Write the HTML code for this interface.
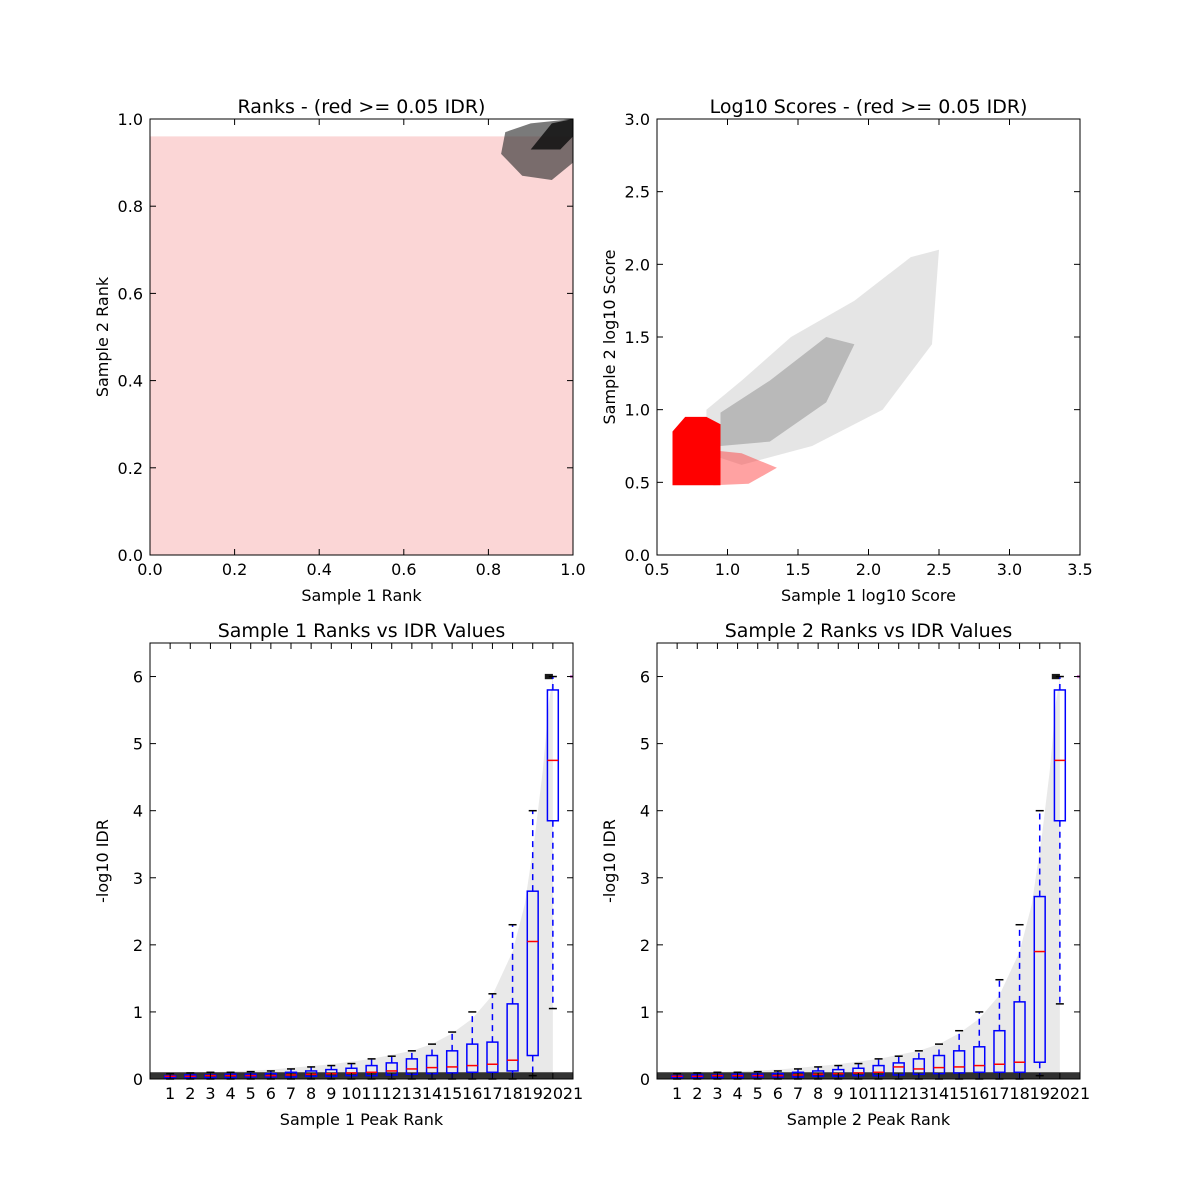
<!DOCTYPE html>
<html><head><meta charset="utf-8"><style>
html,body{margin:0;padding:0;background:#fff}
svg{display:block;font-family:"DejaVu Sans","Liberation Sans",sans-serif}
</style></head><body>
<svg id="fig" width="1200" height="1200" viewBox="0 0 1200 1200" xmlns="http://www.w3.org/2000/svg">
<rect width="1200" height="1200" fill="#fff"/>
</svg>
<script>
// ---------- data ----------
const rankTicks = [0.0,0.2,0.4,0.6,0.8,1.0];
const scoreXTicks = [0.5,1.0,1.5,2.0,2.5,3.0,3.5];
const scoreYTicks = [0.0,0.5,1.0,1.5,2.0,2.5,3.0];
const idrTicks = [0,1,2,3,4,5,6];
const peakRankTicks = [1,2,3,4,5,6,7,8,9,10,11,12,13,14,15,16,17,18,19,20,21];
// top-left density regions (rank space)
const rankRedRegionX = [0,0.82,1,1,0];
const rankRedRegionY = [0,0,0,0.96,0.96];
const rankBlackRegionX = [0.83,0.88,0.95,1.0,1.0,0.9,0.84];
const rankBlackRegionY = [0.92,0.87,0.86,0.9,1.0,0.99,0.97];
const rankBlackCoreX = [0.9,0.97,1.0,1.0,0.95];
const rankBlackCoreY = [0.93,0.93,0.96,1.0,0.99];
// top-right score regions
const scoreRedX = [0.61,0.95,0.95,0.85,0.7,0.61];
const scoreRedY = [0.48,0.48,0.9,0.95,0.95,0.85];
const scoreRedTailX = [0.9,1.15,1.35,1.1,0.9];
const scoreRedTailY = [0.48,0.49,0.6,0.7,0.72];
const scoreGrayX = [0.85,1.1,1.6,2.1,2.45,2.5,2.3,1.9,1.45,1.1,0.85];
const scoreGrayY = [0.7,0.62,0.75,1.0,1.45,2.1,2.05,1.75,1.5,1.2,1.0];
const scoreGrayCoreX = [0.95,1.3,1.7,1.9,1.7,1.3,0.95];
const scoreGrayCoreY = [0.75,0.78,1.05,1.45,1.5,1.2,0.98];
// bottom envelope of gray cloud (upper -log10 IDR by rank)
const envRank = [0,3,6,9,11,13,14,15,16,17,18,18.6,19.1,19.5,19.8,20.0,20.0];
const envTop  = [0.07,0.1,0.14,0.22,0.3,0.42,0.52,0.68,0.9,1.25,1.9,2.6,3.6,4.6,5.6,6.0,0];
// boxplot stats sample 1
const s1Q1  = [0.02,0.02,0.02,0.02,0.03,0.03,0.03,0.04,0.04,0.05,0.05,0.06,0.07,0.08,0.09,0.1,0.1,0.12,0.35,3.85];
const s1Med = [0.04,0.04,0.05,0.05,0.05,0.05,0.06,0.07,0.08,0.09,0.1,0.12,0.15,0.17,0.18,0.2,0.22,0.28,2.05,4.75];
const s1Q3  = [0.05,0.06,0.06,0.07,0.07,0.08,0.1,0.12,0.14,0.16,0.2,0.24,0.3,0.35,0.42,0.52,0.55,1.12,2.8,5.8];
const s1Hi  = [0.08,0.09,0.1,0.1,0.11,0.12,0.15,0.18,0.2,0.23,0.3,0.34,0.42,0.52,0.7,1.0,1.27,2.3,4.0,6.0];
const s1Lo  = [0,0,0,0,0,0,0,0,0,0,0,0,0,0,0,0,0,0,0.05,1.05];
// sample 2
const s2Q1  = [0.02,0.02,0.02,0.02,0.03,0.03,0.03,0.04,0.04,0.05,0.05,0.06,0.07,0.08,0.09,0.1,0.1,0.1,0.25,3.85];
const s2Med = [0.04,0.04,0.05,0.05,0.05,0.05,0.06,0.07,0.08,0.09,0.1,0.18,0.15,0.17,0.18,0.2,0.22,0.25,1.9,4.75];
const s2Q3  = [0.05,0.06,0.06,0.07,0.07,0.08,0.1,0.12,0.14,0.16,0.2,0.24,0.3,0.35,0.42,0.48,0.72,1.15,2.72,5.8];
const s2Hi  = [0.08,0.09,0.1,0.1,0.11,0.12,0.15,0.18,0.2,0.23,0.3,0.34,0.42,0.52,0.72,1.0,1.48,2.3,4.0,6.0];
const s2Lo  = [0,0,0,0,0,0,0,0,0,0,0,0,0,0,0,0,0,0,0.05,1.12];

// ---------- helpers ----------
const NS="http://www.w3.org/2000/svg";
const fig=document.getElementById('fig');
function mk(tag,attrs,parent){const e=document.createElementNS(NS,tag);for(const k in attrs)e.setAttribute(k,attrs[k]);(parent||fig).appendChild(e);return e;}
function axis(x0,x1,y0,y1,px0,px1,py0,py1){
  return {x:v=>px0+(v-x0)/(x1-x0)*(px1-px0), y:v=>py0-(v-y0)/(y1-y0)*(py0-py1), px0,px1,py0,py1};
}
function poly(ax,xs,ys,fill,op,name,g){
  const pts=xs.map((v,i)=>ax.x(v).toFixed(1)+','+ax.y(ys[i]).toFixed(1)).join(' ');
  const p=mk('polygon',{points:pts,fill:fill,'fill-opacity':op},g);
  
  
  return p;
}
function frame(ax,xt,yt,xfmt,yfmt,title,xl,yl,name){
  const g=mk('g',{});
  
  
  mk('rect',{x:ax.px0,y:ax.py1,width:ax.px1-ax.px0,height:ax.py0-ax.py1,fill:'none',stroke:'#000','stroke-width':1},g);
  xt.forEach(v=>{const X=ax.x(v);
    mk('line',{x1:X,x2:X,y1:ax.py0,y2:ax.py0-6,stroke:'#000'},g);
    mk('line',{x1:X,x2:X,y1:ax.py1,y2:ax.py1+6,stroke:'#000'},g);
    const t=mk('text',{x:X,y:ax.py0+20,'text-anchor':'middle','font-size':16},g);t.textContent=xfmt(v);
    
    
  });
  yt.forEach(v=>{const Y=ax.y(v);
    mk('line',{x1:ax.px0,x2:ax.px0+6,y1:Y,y2:Y,stroke:'#000'},g);
    mk('line',{x1:ax.px1,x2:ax.px1-6,y1:Y,y2:Y,stroke:'#000'},g);
    const t=mk('text',{x:ax.px0-7,y:Y+6,'text-anchor':'end','font-size':16},g);t.textContent=yfmt(v);
    
    
  });
  const tt=mk('text',{x:(ax.px0+ax.px1)/2,y:ax.py1-6,'text-anchor':'middle','font-size':19},g);tt.textContent=title;
  
  
  const xlt=mk('text',{x:(ax.px0+ax.px1)/2,y:ax.py0+46,'text-anchor':'middle','font-size':16},g);xlt.textContent=xl;
  
  
  const cx=ax.px0-42, cy=(ax.py0+ax.py1)/2;
  const ylt=mk('text',{x:cx,y:cy,'text-anchor':'middle','font-size':16,transform:`rotate(-90 ${cx} ${cy})`},g);ylt.textContent=yl;
  
  
}
const f1=v=>v.toFixed(1);

// ---------- top-left ----------
const a1=axis(0,1,0,1,150,573,555,119);
poly(a1,rankRedRegionX,rankRedRegionY,'#f9c4c4',0.7,'red-rank-points');
poly(a1,rankBlackRegionX,rankBlackRegionY,'#333',0.65,'black-rank-points');
poly(a1,rankBlackCoreX,rankBlackCoreY,'#111',0.85,'black-rank-core');
frame(a1,rankTicks,rankTicks,f1,f1,'Ranks - (red >= 0.05 IDR)','Sample 1 Rank','Sample 2 Rank','ranks-panel');

// ---------- top-right ----------
const a2=axis(0.5,3.5,0,3,657,1080,555,119);
poly(a2,scoreGrayX,scoreGrayY,'#aaa',0.3,'gray-score-points');
poly(a2,scoreGrayCoreX,scoreGrayCoreY,'#666',0.35,'gray-score-core');
poly(a2,scoreRedTailX,scoreRedTailY,'#ff3030',0.45,'red-score-tail');
poly(a2,scoreRedX,scoreRedY,'#ff0000',1,'red-score-points');
frame(a2,scoreXTicks,scoreYTicks,f1,f1,'Log10 Scores - (red >= 0.05 IDR)','Sample 1 log10 Score','Sample 2 log10 Score','scores-panel');

// ---------- bottom ----------
function boxPanel(px0,px1,Q1,Med,Q3,Hi,Lo,title,xl,name){
  const ax=axis(0,21,0,6.5,px0,px1,1079,643);
  const g=mk('g',{});
  
  
  poly(ax,envRank,envTop,'#999',0.22,'gray-idr-points',g);
  poly(ax,[0,21,21,0],[0,0,0.1,0.1],'#000',0.8,'dense-idr-band',g);
  poly(ax,[19.6,20.0,20.0,19.6],[5.96,5.96,6.04,6.04],'#000',0.9,'max-idr-points',g);
  const bw=0.27;
  Q1.forEach((q1,i)=>{
    const p=i+1, X=ax.x(p);
    const b=mk('rect',{x:ax.x(p-bw),y:ax.y(Q3[i]),width:ax.x(p+bw)-ax.x(p-bw),height:Math.max(1,ax.y(q1)-ax.y(Q3[i])),fill:'none',stroke:'#00f','stroke-width':1.5},g);
    
    
    mk('line',{x1:X,x2:X,y1:ax.y(Q3[i]),y2:ax.y(Hi[i]),stroke:'#00f','stroke-width':1.5,'stroke-dasharray':'6,5'},g);
    mk('line',{x1:X,x2:X,y1:ax.y(q1),y2:ax.y(Lo[i]),stroke:'#00f','stroke-width':1.5,'stroke-dasharray':'6,5'},g);
    mk('line',{x1:X-4,x2:X+4,y1:ax.y(Hi[i]),y2:ax.y(Hi[i]),stroke:'#000','stroke-width':1.5},g);
    mk('line',{x1:X-4,x2:X+4,y1:ax.y(Lo[i]),y2:ax.y(Lo[i]),stroke:'#000','stroke-width':1.5},g);
    mk('line',{x1:ax.x(p-bw),x2:ax.x(p+bw),y1:ax.y(Med[i]),y2:ax.y(Med[i]),stroke:'#f00','stroke-width':1.5},g);
  });
  mk('line',{x1:ax.x(20.85),x2:ax.x(21),y1:ax.y(6),y2:ax.y(6),stroke:'#a0a','stroke-width':2},g);
  frame(ax,peakRankTicks,idrTicks,v=>String(v),v=>String(v),title,xl,'-log10 IDR',name);
}
boxPanel(150,573,s1Q1,s1Med,s1Q3,s1Hi,s1Lo,'Sample 1 Ranks vs IDR Values','Sample 1 Peak Rank','sample1-idr-panel');
boxPanel(657,1080,s2Q1,s2Med,s2Q3,s2Hi,s2Lo,'Sample 2 Ranks vs IDR Values','Sample 2 Peak Rank','sample2-idr-panel');
</script>
</body></html>
